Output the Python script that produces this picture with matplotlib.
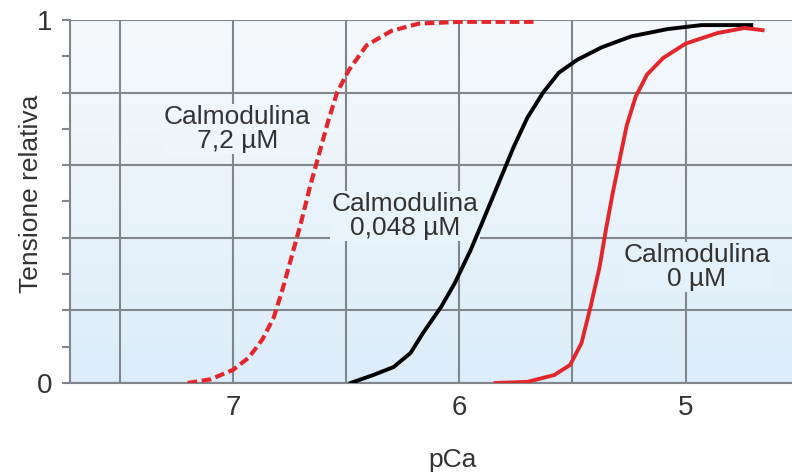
import matplotlib
matplotlib.use("Agg")
import matplotlib.pyplot as plt
import numpy as np
from matplotlib.colors import LinearSegmentedColormap

plt.rcParams["font.family"] = ["Liberation Sans", "DejaVu Sans"]

# valori (pCa, tensione relativa)
pca_72 = [7.20, 7.10, 7.00, 6.93, 6.87, 6.82, 6.78, 6.74, 6.70, 6.66, 6.62, 6.58,
          6.54, 6.49, 6.41, 6.30, 6.18, 6.00, 5.80, 5.67]
ten_72 = [0.0, 0.01, 0.036, 0.07, 0.12, 0.18, 0.26, 0.35, 0.44, 0.54, 0.63, 0.72,
          0.80, 0.86, 0.93, 0.97, 0.99, 0.995, 0.995, 0.995]

pca_0048 = [6.48, 6.38, 6.29, 6.215, 6.16, 6.08, 6.02, 5.95, 5.90, 5.86, 5.82, 5.76,
            5.70, 5.63, 5.56, 5.48, 5.37, 5.24, 5.08, 4.93, 4.71]
ten_0048 = [0.0, 0.022, 0.044, 0.083, 0.138, 0.21, 0.275, 0.366, 0.44, 0.50, 0.56,
            0.65, 0.73, 0.80, 0.855, 0.89, 0.925, 0.955, 0.975, 0.986, 0.986]

pca_0 = [5.84, 5.70, 5.58, 5.51, 5.46, 5.42, 5.38, 5.35, 5.32, 5.29, 5.26, 5.22,
         5.17, 5.10, 5.00, 4.86, 4.74, 4.66]
ten_0 = [0.0, 0.003, 0.022, 0.05, 0.11, 0.21, 0.32, 0.43, 0.53, 0.62, 0.71, 0.79,
         0.85, 0.895, 0.935, 0.964, 0.978, 0.972]

x_ticks = [7, 6, 5]
x_grid = [7.5, 6.5, 5.5]
y_major = [0, 0.2, 0.4, 0.6, 0.8, 1.0]
y_minor = [0.1, 0.3, 0.5, 0.7, 0.9]

labels = ["Calmodulina\n7,2 \u00b5M", "Calmodulina\n0,048 \u00b5M", "Calmodulina\n0 \u00b5M"]
label_pos = [(6.98, 0.70), (6.24, 0.46), (4.95, 0.32)]

GRID = "#80868b"
RED = "#e3262b"
TXT = "#333333"

fig = plt.figure(figsize=(7.92, 4.72), dpi=100)
ax = fig.add_axes([0.0884, 0.1886, 0.9116, 0.769])

xmin, xmax = 7.72, 4.53
bg = LinearSegmentedColormap.from_list("bg", ["#dcedf9", "#f6f9fc"])
grad = np.linspace(0, 1, 256).reshape(-1, 1)
ax.imshow(grad, cmap=bg, origin="lower", aspect="auto",
          extent=[xmin, xmax, 0, 1], zorder=0)

ax.set_xlim(xmin, xmax)
ax.set_ylim(0, 1)

for x in x_ticks + x_grid:
    ax.axvline(x, color=GRID, lw=1.5, zorder=1)
for y in y_major:
    ax.axhline(y, color=GRID, lw=1.5, zorder=1)

ax.plot(pca_72, ten_72, color=RED, lw=3.0, ls=(0, (2.3, 1.1)), zorder=3)
ax.plot(pca_0048, ten_0048, color="black", lw=2.8, zorder=3)
ax.plot(pca_0, ten_0, color=RED, lw=2.8, zorder=3)

for txt, (x, y) in zip(labels, label_pos):
    ax.text(x, y, txt, ha="center", va="center", fontsize=19, color=TXT,
            linespacing=1.0, zorder=2,
            bbox=dict(facecolor=bg(y), edgecolor="none", pad=1))

ax.set_xticks(x_ticks)
ax.set_xticklabels([str(t) for t in x_ticks], fontsize=20, color=TXT)
ax.tick_params(axis="x", length=0, pad=9)

ax.set_yticks(y_major)
ax.set_yticklabels(["0", "", "", "", "", "1"], fontsize=20, color=TXT)
ax.set_yticks(y_minor, minor=True)
ax.tick_params(axis="y", which="both", length=6, width=1.5, color=GRID, pad=7)

for s in ["top", "right"]:
    ax.spines[s].set_visible(False)
for s in ["left", "bottom"]:
    ax.spines[s].set_color(GRID)
    ax.spines[s].set_linewidth(1.5)

ax.set_xlabel("pCa", fontsize=19, color=TXT)
ax.xaxis.set_label_coords(0.53, -0.178)
ax.set_ylabel("Tensione relativa", fontsize=19, color=TXT)
ax.yaxis.set_label_coords(-0.037, 0.52)

fig.savefig("out.png", dpi=100)
